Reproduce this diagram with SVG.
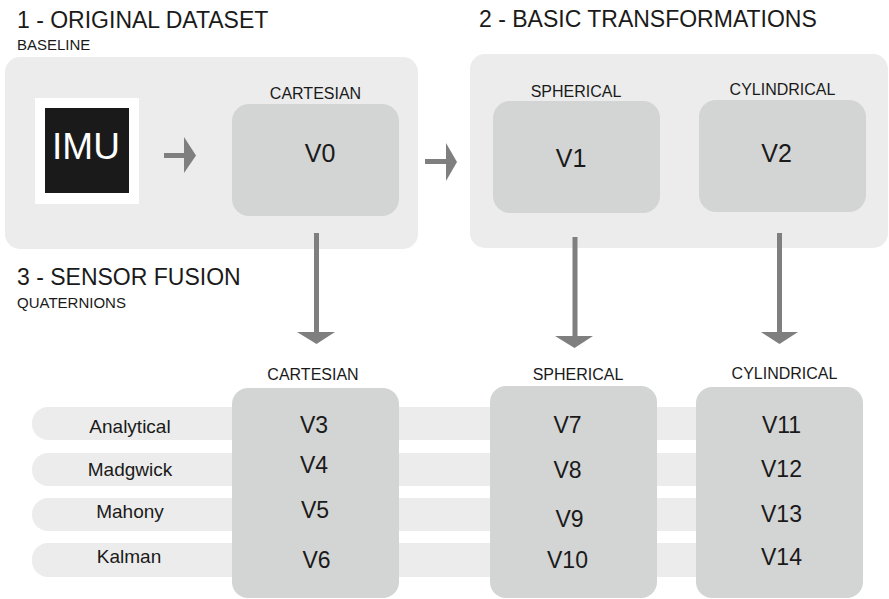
<svg xmlns="http://www.w3.org/2000/svg" width="889" height="599" viewBox="0 0 889 599">
<style>
text{font-family:"Liberation Sans",Arial,sans-serif;fill:#1a1a1a}
.title{font-size:23px}
.sub{font-size:15px}
.col{font-size:16px;text-anchor:middle}
.vbig{font-size:25px;text-anchor:middle}
.v{font-size:23px;text-anchor:middle}
.row{font-size:19px;text-anchor:middle}
.panel{fill:#ececec}
.box{fill:#d3d4d4}
.pill{fill:#ececec}
.arr{fill:#7f7f7f}
</style>
<rect width="889" height="599" fill="#ffffff"/>

<g id="titles">
<text class="title" x="17" y="28">1 - ORIGINAL DATASET</text>
<text class="sub" x="17" y="50">BASELINE</text>
<text class="title" x="479" y="27">2 - BASIC TRANSFORMATIONS</text>
<text class="title" x="17" y="285">3 - SENSOR FUSION</text>
<text class="sub" x="17" y="308">QUATERNIONS</text>
</g>

<g id="panel1"><rect class="panel" x="5" y="57" width="413" height="192" rx="15"/></g>
<g id="panel2"><rect class="panel" x="470" y="54" width="418" height="194" rx="15"/></g>

<g id="rows">
<rect class="pill" x="32" y="407" width="830" height="33" rx="16"/>
<rect class="pill" x="32" y="453" width="830" height="33" rx="16"/>
<rect class="pill" x="32" y="498" width="830" height="33" rx="16"/>
<rect class="pill" x="32" y="543" width="830" height="34" rx="16"/>
<text class="row" x="130" y="433">Analytical</text>
<text class="row" x="130" y="476">Madgwick</text>
<text class="row" x="130" y="518">Mahony</text>
<text class="row" x="129" y="563">Kalman</text>
</g>

<g id="imu">
<rect x="35" y="98" width="104" height="106" fill="#ffffff"/>
<rect x="45" y="108" width="84" height="85" fill="#1a1a1a"/>
<text x="86" y="159" style="font-size:37px;text-anchor:middle;fill:#ffffff">IMU</text>
</g>

<g id="v0">
<text class="col" x="315.5" y="99">CARTESIAN</text>
<rect class="box" x="232" y="104" width="167" height="112" rx="17"/>
<text class="vbig" x="320" y="162">V0</text>
</g>

<g id="v1">
<text class="col" x="576" y="97">SPHERICAL</text>
<rect class="box" x="493" y="101" width="167" height="112" rx="17"/>
<text class="vbig" x="571" y="167">V1</text>
</g>

<g id="v2">
<text class="col" x="782.5" y="95">CYLINDRICAL</text>
<rect class="box" x="699" y="100" width="167" height="112" rx="17"/>
<text class="vbig" x="776.5" y="162">V2</text>
</g>

<g id="cartesian">
<text class="col" x="313" y="380">CARTESIAN</text>
<rect class="box" x="232" y="388" width="167" height="210" rx="16"/>
<text class="v" x="314" y="433">V3</text>
<text class="v" x="314" y="473">V4</text>
<text class="v" x="315" y="518">V5</text>
<text class="v" x="316.5" y="568">V6</text>
</g>

<g id="spherical">
<text class="col" x="578" y="380">SPHERICAL</text>
<rect class="box" x="490" y="386" width="167" height="212" rx="16"/>
<text class="v" x="567.5" y="433">V7</text>
<text class="v" x="567.5" y="478">V8</text>
<text class="v" x="569.5" y="527">V9</text>
<text class="v" x="567.5" y="568">V10</text>
</g>

<g id="cylindrical">
<text class="col" x="784.5" y="379">CYLINDRICAL</text>
<rect class="box" x="696" y="387" width="167" height="211" rx="16"/>
<text class="v" x="781.5" y="433">V11</text>
<text class="v" x="781.5" y="477">V12</text>
<text class="v" x="781.5" y="522">V13</text>
<text class="v" x="781.5" y="565">V14</text>
</g>

<g id="connectors">
<rect class="arr" x="164" y="153" width="21" height="5"/>
<polygon class="arr" points="184,137 196,155.5 184,173"/>
<rect class="arr" x="425" y="159" width="22" height="5"/>
<polygon class="arr" points="446,143 457,162 446,181"/>
<rect class="arr" x="314" y="233" width="5" height="100"/>
<polygon class="arr" points="297,332 335,332 316.5,344"/>
<rect class="arr" x="572.5" y="237" width="5" height="100"/>
<polygon class="arr" points="555,336 593,336 574.5,348"/>
<rect class="arr" x="777" y="233" width="5" height="100"/>
<polygon class="arr" points="761,332 798,332 779.5,344"/>
</g>
</svg>
